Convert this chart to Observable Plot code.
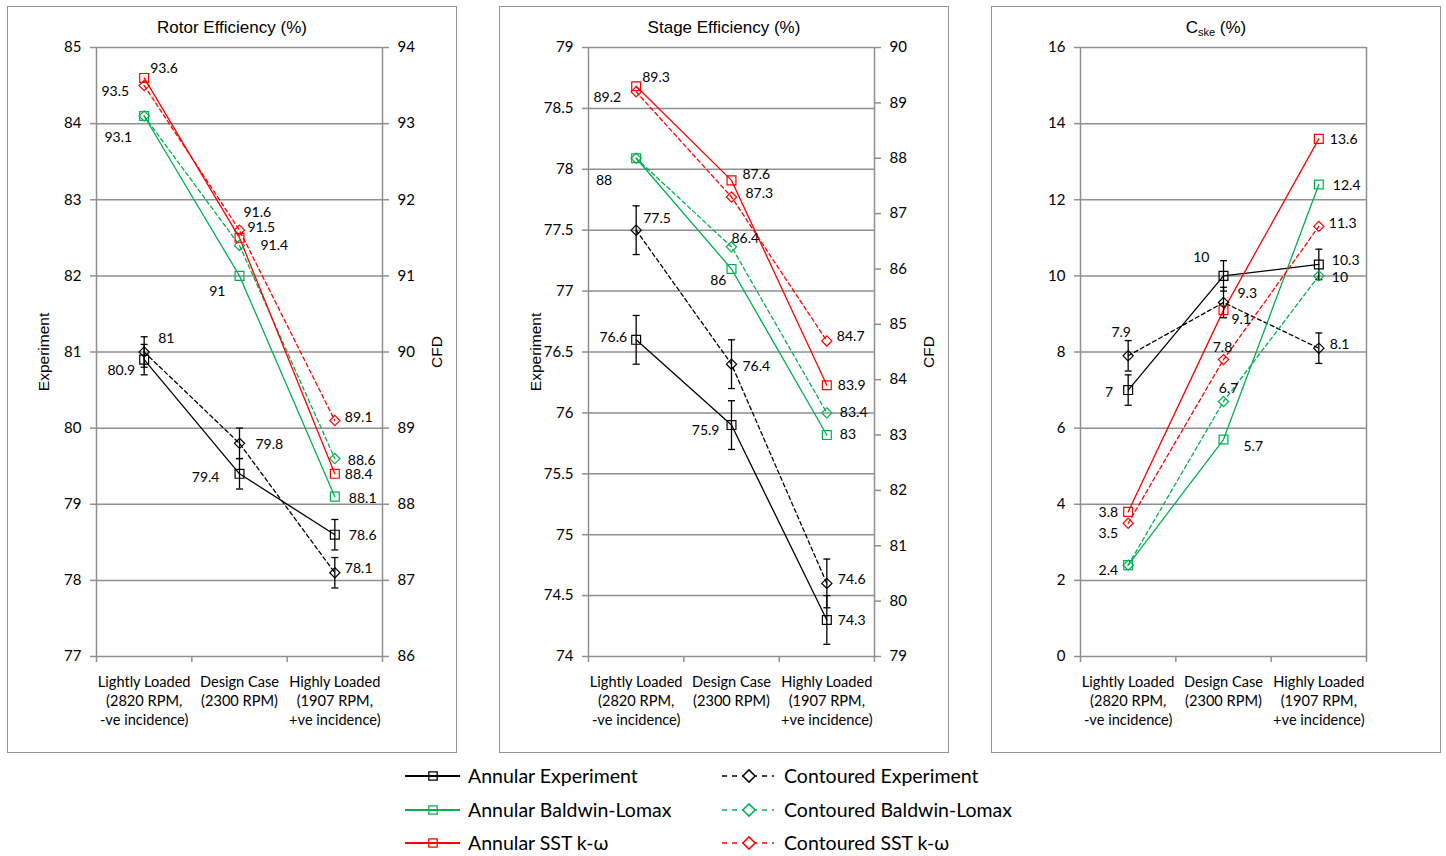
<!DOCTYPE html>
<html>
<head>
<meta charset="utf-8">
<script src="https://cdn.jsdelivr.net/npm/d3@7"></script>
<script src="https://cdn.jsdelivr.net/npm/@observablehq/plot@0.6"></script>
<style>
  html, body { margin: 0; padding: 0; background: #fff; }
  body { width: 1446px; height: 856px; overflow: hidden; position: relative; font-family: Lato, sans-serif; }
  .panel { position: absolute; top: 6px; width: 448px; height: 745px; border: 1.5px solid #949494; box-sizing: content-box; }
  .panel svg { position: absolute; left: 0; top: 0; }
  .ptitle { position: absolute; left: 0; right: 0; top: 11px; height: 20px; line-height: 20px; text-align: center;
            font-family: "Liberation Sans", Arial, sans-serif; font-size: 17px; color: #000; z-index: 2; }
  .ptitle sub { font-size: 11px; vertical-align: -3px; }
  #legend { position: absolute; left: 0; top: 755px; }
</style>
</head>
<body>
<div class="panel" id="p1" style="left:7px"><div class="ptitle">Rotor Efficiency (%)</div></div>
<div class="panel" id="p2" style="left:499px"><div class="ptitle">Stage Efficiency (%)</div></div>
<div class="panel" id="p3" style="left:991px"><div class="ptitle">C<sub>ske</sub> (%)</div></div>
<div id="legend"></div>
<script>
// ---------------- DATA ----------------
const categories = [
  "Lightly Loaded\n(2820 RPM,\n-ve incidence)",
  "Design Case\n(2300 RPM)",
  "Highly Loaded\n(1907 RPM,\n+ve incidence)"
];
const seriesNames = [
  "Annular Experiment", "Contoured Experiment",
  "Annular Baldwin-Lomax", "Contoured Baldwin-Lomax",
  "Annular SST k-ω", "Contoured SST k-ω"
];

// Rotor efficiency (%): experiment on left axis, CFD on right axis
const rotorAnnularExp    = [80.9, 79.4, 78.6];
const rotorContouredExp  = [81.0, 79.8, 78.1];
const rotorAnnularBL     = [93.1, 91.0, 88.1];
const rotorContouredBL   = [93.1, 91.4, 88.6];
const rotorAnnularSST    = [93.6, 91.5, 88.4];
const rotorContouredSST  = [93.5, 91.6, 89.1];
const rotorAnnularErr    = [0.2, 0.2, 0.2];
const rotorContouredErr  = [0.2, 0.2, 0.2];
const rotorExpTicks = [77, 78, 79, 80, 81, 82, 83, 84, 85];
const rotorCfdTicks = [86, 87, 88, 89, 90, 91, 92, 93, 94];

// Stage efficiency (%)
const stageAnnularExp    = [76.6, 75.9, 74.3];
const stageContouredExp  = [77.5, 76.4, 74.6];
const stageAnnularBL     = [88.0, 86.0, 83.0];
const stageContouredBL   = [88.0, 86.4, 83.4];
const stageAnnularSST    = [89.3, 87.6, 83.9];
const stageContouredSST  = [89.2, 87.3, 84.7];
const stageAnnularErr    = [0.2, 0.2, 0.2];
const stageContouredErr  = [0.2, 0.2, 0.2];
const stageExpTicks = [74, 74.5, 75, 75.5, 76, 76.5, 77, 77.5, 78, 78.5, 79];
const stageCfdTicks = [79, 80, 81, 82, 83, 84, 85, 86, 87, 88, 89, 90];

// C_ske (%)
const cskeAnnularExp     = [7.0, 10.0, 10.3];
const cskeContouredExp   = [7.9, 9.3, 8.1];
const cskeAnnularBL      = [2.4, 5.7, 12.4];
const cskeContouredBL    = [2.4, 6.7, 10.0];
const cskeAnnularSST     = [3.8, 9.1, 13.6];
const cskeContouredSST   = [3.5, 7.8, 11.3];
const cskeAnnularErr     = [0.4, 0.4, 0.4];
const cskeContouredErr   = [0.4, 0.4, 0.4];
const cskeTicks = [0, 2, 4, 6, 8, 10, 12, 14, 16];

// ---------------- STYLE / LABEL PLACEMENT (kept apart from data) ----------------
const seriesColor  = ["#000000", "#000000", "#00b050", "#00b050", "#ff0000", "#ff0000"];
const seriesDashed = [false, true, false, true, false, true];
const seriesSymbol = ["square", "diamond2", "square", "diamond2", "square", "diamond2"];
const GRID = "#8f8f8f";

// [dx, dy, anchor] per series/point; null = label hidden (coincident)
const rotorNudge = [
  [[-9, 11, "end"], [-20, 4, "end"], [14, 1, "start"]],
  [[14, -13, "start"], [16, 1, "start"], [10, -4, "start"]],
  [[-12, 22, "end"], [-14, 16, "end"], [14, 2, "start"]],
  [null, [21, 0, "start"], [13, 2, "start"]],
  [[6, -9, "start"], [8, -10, "start"], [10, 1, "start"]],
  [[-15, 6, "end"], [4, -18, "start"], [10, -3, "start"]]
];
const stageNudge = [
  [[-9, -2, "end"], [-12, 5, "end"], [11, 1, "start"]],
  [[7, -12, "start"], [11, 2, "start"], [11, -4, "start"]],
  [[-24, 22, "end"], [-5, 12, "end"], [13, -1, "start"]],
  [null, [0, -8, "start"], [13, 0, "start"]],
  [[6, -9, "start"], [11, -6, "start"], [11, 0, "start"]],
  [[-15, 6, "end"], [14, -3, "start"], [10, -4, "start"]]
];
const cskeNudge = [
  [[-15, 2, "end"], [-14, -18, "end"], [13, -4, "start"]],
  [[-7, -23, "middle"], [14, -9, "start"], [11, -4, "start"]],
  [[-10, 5, "end"], [20, 7, "start"], [14, 1, "start"]],
  [null, [5, -13, "middle"], [13, 2, "start"]],
  [[-10, 1, "end"], [8, 9, "start"], [11, 1, "start"]],
  [[-10, 10, "end"], [-1, -12, "middle"], [10, -3, "start"]]
];

// horizontal error-bar cap symbol
const capSymbol = {
  draw(ctx, size) { const h = Math.sqrt(size / Math.PI); ctx.moveTo(-h, 0); ctx.lineTo(h, 0); }
};

function buildPanel(el, cfg) {
  const isCFD = [false, false, true, true, true, true];
  const toLeft = cfg.toLeft || (v => v);
  const rows = [];
  cfg.values.forEach((vals, s) => vals.forEach((v, i) => {
    rows.push({s, i, v, y: isCFD[s] ? toLeft(v) : v});
  }));
  const X = d => d.i + 0.5;
  const marks = [];
  // gridlines & frame
  marks.push(Plot.ruleY(cfg.yTicks, {stroke: GRID, strokeWidth: 1.5}));
  marks.push(Plot.ruleX([0, 3], {stroke: GRID, strokeWidth: 1.5}));
  // axes
  marks.push(Plot.axisY({ticks: cfg.yTicks, tickSize: 6, tickPadding: 9, stroke: GRID, strokeWidth: 1.5,
    tickFormat: d => String(d), fontSize: 15, label: null}));
  if (cfg.cfdTicks) {
    marks.push(Plot.axisY({anchor: "right", ticks: cfg.cfdTicks.map(toLeft), tickSize: 6, tickPadding: 9,
      stroke: GRID, strokeWidth: 1.5, tickFormat: d => String(Math.round(cfg.fromLeft(d) * 10) / 10),
      fontSize: 15, label: null}));
  }
  marks.push(Plot.axisX({ticks: [0, 1, 2, 3], tickSize: 6, tickFormat: () => "", stroke: GRID, strokeWidth: 1.5, label: null}));
  marks.push(Plot.axisX({ticks: [0.5, 1.5, 2.5], tickSize: 0, tickPadding: 17,
    tickFormat: d => categories[Math.floor(d)], fontSize: 14.6, lineHeight: 1.3, label: null}));
  // axis titles
  if (cfg.leftTitle) marks.push(Plot.text([cfg.leftTitle], {text: d => d, frameAnchor: "left", textAnchor: "middle",
    dx: -52, rotate: -90, fontFamily: "Liberation Sans, Arial, sans-serif", fontSize: 15.5, fill: "#000"}));
  if (cfg.rightTitle) marks.push(Plot.text([cfg.rightTitle], {text: d => d, frameAnchor: "right", textAnchor: "middle",
    dx: 55, rotate: -90, fontFamily: "Liberation Sans, Arial, sans-serif", fontSize: 15.5, fill: "#000"}));
  // lines
  for (let s = 0; s < 6; s++) {
    marks.push(Plot.line(rows.filter(r => r.s === s), {x: X, y: "y", stroke: seriesColor[s], strokeWidth: 1.3,
      strokeDasharray: seriesDashed[s] ? "4,3" : null}));
  }
  // error bars on experiment
  for (let s = 0; s < 2; s++) {
    const err = cfg.errors[s];
    const er = rows.filter(r => r.s === s);
    marks.push(Plot.ruleX(er, {x: X, y1: d => d.y - err[d.i], y2: d => d.y + err[d.i], stroke: "#000", strokeWidth: 1.3}));
    marks.push(Plot.dot(er, {x: X, y: d => d.y - err[d.i], symbol: capSymbol, r: 3.5, stroke: "#000", strokeWidth: 1.3}));
    marks.push(Plot.dot(er, {x: X, y: d => d.y + err[d.i], symbol: capSymbol, r: 3.5, stroke: "#000", strokeWidth: 1.3}));
  }
  // markers
  for (let s = 0; s < 6; s++) {
    marks.push(Plot.dot(rows.filter(r => r.s === s), {x: X, y: "y", symbol: seriesSymbol[s],
      r: seriesSymbol[s] === "square" ? 5 : 4.6, stroke: seriesColor[s], fill: "none", strokeWidth: 1.2}));
  }
  // data labels
  rows.forEach(r => {
    const n = cfg.nudge[r.s][r.i];
    if (!n) return;
    marks.push(Plot.text([r], {x: X, y: "y", text: d => String(d.v), dx: n[0], dy: n[1], textAnchor: n[2],
      fontSize: 14, fill: "#000"}));
  });

  const svg = Plot.plot({
    width: 448, height: 745,
    marginLeft: 88, marginRight: 74, marginTop: 40, marginBottom: 96,
    x: {type: "linear", domain: [0, 3]},
    y: {type: "linear", domain: cfg.yDomain},
    style: {fontFamily: "Lato, sans-serif", fontSize: "15px", color: "#000", background: "transparent", overflow: "visible"},
    marks
  });
  el.appendChild(svg);
}

buildPanel(document.getElementById("p1"), {
  values: [rotorAnnularExp, rotorContouredExp, rotorAnnularBL, rotorContouredBL, rotorAnnularSST, rotorContouredSST],
  errors: [rotorAnnularErr, rotorContouredErr],
  yDomain: [77, 85], yTicks: rotorExpTicks, cfdTicks: rotorCfdTicks,
  toLeft: c => 77 + (c - 86) * (85 - 77) / (94 - 86),
  fromLeft: e => 86 + (e - 77) * (94 - 86) / (85 - 77),
  leftTitle: "Experiment", rightTitle: "CFD", nudge: rotorNudge
});
buildPanel(document.getElementById("p2"), {
  values: [stageAnnularExp, stageContouredExp, stageAnnularBL, stageContouredBL, stageAnnularSST, stageContouredSST],
  errors: [stageAnnularErr, stageContouredErr],
  yDomain: [74, 79], yTicks: stageExpTicks, cfdTicks: stageCfdTicks,
  toLeft: c => 74 + (c - 79) * (79 - 74) / (90 - 79),
  fromLeft: e => 79 + (e - 74) * (90 - 79) / (79 - 74),
  leftTitle: "Experiment", rightTitle: "CFD", nudge: stageNudge
});
buildPanel(document.getElementById("p3"), {
  values: [cskeAnnularExp, cskeContouredExp, cskeAnnularBL, cskeContouredBL, cskeAnnularSST, cskeContouredSST],
  errors: [cskeAnnularErr, cskeContouredErr],
  yDomain: [0, 16], yTicks: cskeTicks, nudge: cskeNudge
});

// ---------------- LEGEND ----------------
(function legend() {
  const svg = d3.select("#legend").append("svg").attr("width", 1446).attr("height", 100)
    .style("font-family", "Lato, sans-serif");
  const rowsY = [21, 55, 88];
  const order = [[0, 1], [2, 3], [4, 5]];
  const sq = d3.symbol().type(d3.symbolSquare).size(70);
  const dm = d3.symbol().type(d3.symbolDiamond2).size(95);
  order.forEach((pair, r) => {
    const y = rowsY[r];
    // annular (left column)
    const a = pair[0];
    svg.append("line").attr("x1", 405).attr("x2", 460).attr("y1", y).attr("y2", y)
      .attr("stroke", seriesColor[a]).attr("stroke-width", 1.8);
    svg.append("path").attr("d", sq()).attr("transform", `translate(433,${y})`)
      .attr("fill", "none").attr("stroke", seriesColor[a]).attr("stroke-width", 1.3);
    svg.append("text").attr("x", 468).attr("y", y).attr("dy", "0.35em").attr("font-size", 19.5)
      .attr("fill", "#000").text(seriesNames[a]);
    // contoured (right column)
    const c = pair[1];
    svg.append("line").attr("x1", 722).attr("x2", 774).attr("y1", y).attr("y2", y)
      .attr("stroke", seriesColor[c]).attr("stroke-width", 1.5).attr("stroke-dasharray", "5,5");
    svg.append("path").attr("d", dm()).attr("transform", `translate(749,${y})`)
      .attr("fill", "#fff").attr("stroke", seriesColor[c]).attr("stroke-width", 1.5);
    svg.append("text").attr("x", 784).attr("y", y).attr("dy", "0.35em").attr("font-size", 19.5)
      .attr("fill", "#000").text(seriesNames[c]);
  });
})();
</script>
</body>
</html>
